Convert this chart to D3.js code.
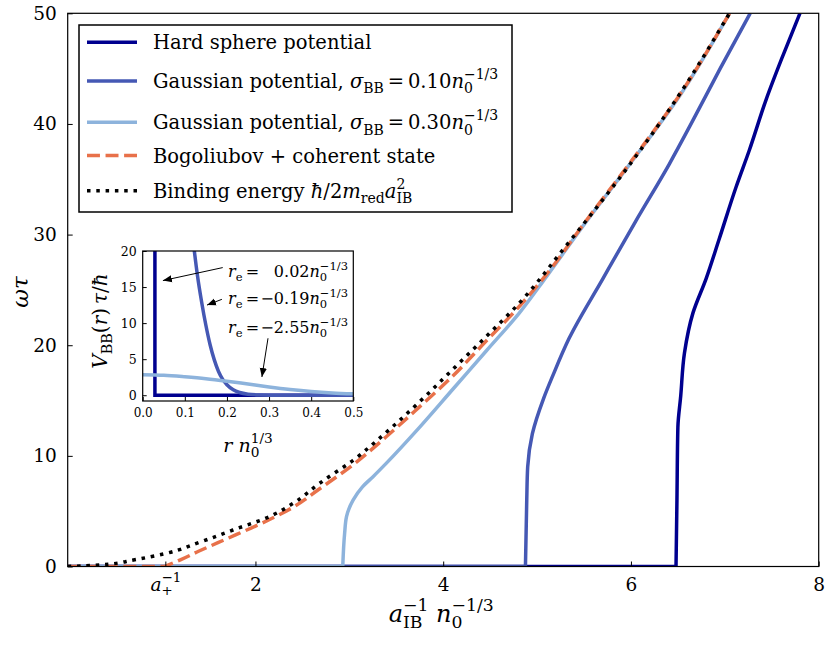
<!DOCTYPE html>
<html><head><meta charset="utf-8">
<script src="https://cdn.jsdelivr.net/npm/d3@7"></script>
<style>
html,body{margin:0;padding:0;background:#fff;}
text{white-space:pre;}
</style>
</head><body>
<svg id="chart" width="830" height="651"></svg>
<script>
// ---------- DATA ----------
const xTickVals = [1.04, 2, 4, 6, 8];
const xTickLabels = ["a+^-1", "2", "4", "6", "8"];
const yTickVals = [0, 10, 20, 30, 40, 50];

const seriesNames = [
  "Hard sphere potential",
  "Gaussian potential, sigma 0.10",
  "Gaussian potential, sigma 0.30",
  "Bogoliubov + coherent state",
  "Binding energy"
];

const hardX = [0, 6.48, 6.49, 6.50, 6.53, 6.57, 6.66, 6.80, 6.94, 7.12, 7.26, 7.44, 7.62, 7.80];
const hardY = [0, 0, 6.0, 12.6, 15.4, 19.3, 22.9, 26.0, 29.6, 34.3, 37.6, 42.2, 46.2, 50];

const gauss10X = [0, 4.876, 4.89, 4.90, 4.95, 5.07, 5.17, 5.34, 5.70, 6.05, 6.41, 6.64, 6.95, 7.27];
const gauss10Y = [0, 0, 6.0, 9.0, 12.0, 15.2, 17.3, 20.6, 26.0, 31.2, 36.4, 40.0, 45.0, 50];

const gauss30X = [0, 2.93, 2.95, 2.97, 3.04, 3.14, 3.25, 3.39, 3.75, 4.10, 4.46, 4.81, 5.10, 5.5, 6.0, 6.5, 7.05];
const gauss30Y = [0, 0, 3.0, 4.5, 6.0, 7.2, 8.1, 9.3, 12.6, 16.0, 19.5, 22.9, 26.2, 30.9, 36.5, 42.3, 50];

const bogX = [0, 1.03, 1.2, 1.4, 1.6, 1.8, 2.0, 2.2, 2.4, 2.68, 3.04, 3.39, 3.75, 4.10, 4.46, 4.81, 5.10, 5.5, 6.0, 6.5, 7.05];
const bogY = [0, 0, 0.6, 1.4, 2.15, 2.9, 3.65, 4.45, 5.35, 7.0, 9.2, 11.7, 14.45, 17.2, 20.4, 23.5, 26.4, 31.0, 36.6, 42.4, 50];

const bindX = [0, 0.35, 0.7, 1.05, 1.41, 1.76, 2.12, 2.40, 2.68, 3.04, 3.39, 3.75, 4.10, 4.46, 4.81, 5.31, 6.02, 6.48, 7.05];
const bindY = [0, 0.14, 0.59, 1.19, 2.2, 3.3, 4.4, 5.7, 7.5, 9.6, 12.1, 14.9, 17.8, 20.8, 23.8, 29.0, 36.7, 42.2, 50];

// inset: potentials V_BB(r)
const insetXTicks = [0.0, 0.1, 0.2, 0.3, 0.4, 0.5];
const insetYTicks = [0, 5, 10, 15, 20];
const vHardR = [0.029, 0.029, 0.5];
const vHardV = [25, 0, 0];
const vG10R = [0.120, 0.1226, 0.130, 0.140, 0.150, 0.160, 0.170, 0.180, 0.190, 0.200, 0.215, 0.230, 0.250, 0.280, 0.320, 0.5];
const vG10V = [21.3, 20, 16.6, 12.9, 9.7, 7.0, 4.9, 3.3, 2.2, 1.45, 0.75, 0.38, 0.15, 0.04, 0.0, 0.0];
const vG30R = [0, 0.05, 0.1, 0.15, 0.2, 0.25, 0.3, 0.35, 0.4, 0.45, 0.5];
const vG30V = [2.85, 2.77, 2.56, 2.3, 1.95, 1.55, 1.15, 0.8, 0.52, 0.32, 0.19];

const reLabels = ["0.02", "\u22120.19", "\u22122.55"];
// annotation anchors in inset data units
const annTailR = [0.190, 0.188, 0.2975];
const annTailV = [17.7, 13.3, 7.9];
const annTipR  = [0.048, 0.1527, 0.283];
const annTipV  = [15.9, 12.5, 2.53];
const annTextV = [16.4, 12.65, 8.63];

// ---------- STYLE ----------
const FONT = "'DejaVu Serif', serif";
const colors = ["#00008f", "#4558b4", "#8db3dc", "#e8714a", "#000000"];
const LW = 3.5;

const svg = d3.select("#chart");

// ---------- helpers ----------
const meas = svg.append("text").attr("font-family", FONT).attr("x", -1000).attr("y", -1000);
function measure(str, size, italic) {
  meas.text(str).attr("font-size", size).attr("font-style", italic ? "italic" : "normal");
  return meas.node().getComputedTextLength();
}
function rich(parent, x, y, items, size, anchor) {
  const t = parent.append("text").attr("x", x).attr("y", y)
    .attr("font-family", FONT).attr("font-size", size)
    .attr("text-anchor", anchor || "start").attr("fill", "#000");
  let cur = 0, lastW = 0, pending = 0;
  items.forEach(it => {
    const s = it.pos ? size * 0.72 : size;
    const off = it.pos === "sub" ? size * 0.27 : it.pos === "sup" ? -size * 0.46 : 0;
    const ts = t.append("tspan").text(it.t).attr("font-size", s).attr("dy", off - cur);
    if (it.i) ts.attr("font-style", "italic");
    const w = measure(it.t, s, it.i);
    let dx = pending; pending = 0;
    if (it.stack) {
      dx -= lastW;
      if (lastW > w) pending = lastW - w;
    }
    if (dx !== 0) ts.attr("dx", dx);
    lastW = w;
    cur = off;
  });
  return t;
}
function zip(a, b) { return a.map((v, i) => [v, b[i]]); }

// ---------- MAIN AXES ----------
const x = d3.scaleLinear().domain([0, 8]).range([67.7, 818.7]);
const y = d3.scaleLinear().domain([0, 50]).range([566.5, 13.3]);
const [X0, X1] = x.range();
const [Y0, Y1] = y.range();

svg.append("clipPath").attr("id", "mainclip").append("rect")
  .attr("x", X0).attr("y", Y1).attr("width", X1 - X0).attr("height", Y0 - Y1);

const lineFlat = d3.line().x(d => x(d[0])).y(d => y(d[1]));
const lineRise = d3.line().x(d => x(d[0])).y(d => y(d[1])).curve(d3.curveMonotoneY);
// zero plateau drawn straight, rising branch drawn as a smooth monotone curve (one continuous path)
function seriesPath(pts) {
  let k = 0;
  while (k + 1 < pts.length && pts[k + 1][1] === 0) k++;
  const rise = lineRise(pts.slice(k));
  if (k === 0) return rise;
  return lineFlat(pts.slice(0, k + 1)) + rise.replace(/^M[^A-Za-z]*/, "");
}
const plot = svg.append("g").attr("clip-path", "url(#mainclip)");

const mainSeries = [
  {d: zip(hardX, hardY), c: colors[0], dash: null},
  {d: zip(gauss10X, gauss10Y), c: colors[1], dash: null},
  {d: zip(gauss30X, gauss30Y), c: colors[2], dash: null},
  {d: zip(bogX, bogY), c: colors[3], dash: "12.95,5.6"},
  {d: zip(bindX, bindY), c: colors[4], dash: "3.5,5.8"}
];
mainSeries.forEach(s => {
  plot.append("path").attr("d", seriesPath(s.d))
    .attr("fill", "none").attr("stroke", s.c).attr("stroke-width", LW)
    .attr("stroke-dasharray", s.dash).attr("stroke-linejoin", "round");
});

// frame
svg.append("rect").attr("x", X0).attr("y", Y1).attr("width", X1 - X0).attr("height", Y0 - Y1)
  .attr("fill", "none").attr("stroke", "#000").attr("stroke-width", 1.2);

// y axis (inward ticks)
const yAxis = d3.axisLeft(y).tickValues(yTickVals).tickSizeInner(-5).tickSizeOuter(0).tickPadding(11);
const gy = svg.append("g").attr("transform", `translate(${X0},0)`).call(yAxis);
gy.select(".domain").remove();
gy.selectAll(".tick line").attr("stroke", "#000").attr("stroke-width", 1);
gy.selectAll(".tick text").attr("font-family", FONT).attr("font-size", 18.5).attr("fill", "#000");

// x axis (inward ticks)
const xAxis = d3.axisBottom(x).tickValues(xTickVals).tickSizeInner(-5).tickSizeOuter(0).tickFormat(() => "");
const gx = svg.append("g").attr("transform", `translate(0,${Y0})`).call(xAxis);
gx.select(".domain").remove();
gx.selectAll(".tick line").attr("stroke", "#000").attr("stroke-width", 1);
gx.selectAll(".tick").each(function(d, i) {
  const g = d3.select(this);
  const lab = xTickLabels[i];
  if (lab === "a+^-1") {
    rich(g, 0, 24, [{t: "a", i: true}, {t: "+", pos: "sub"}, {t: "\u22121", pos: "sup", stack: true}], 18.5, "middle");
  } else {
    rich(g, 0, 24.5, [{t: lab}], 18.5, "middle");
  }
});

// axis labels
rich(svg, (X0 + X1) / 2 - 2, 622, [
  {t: "a", i: true}, {t: "IB", pos: "sub"}, {t: "\u22121", pos: "sup", stack: true},
  {t: " "}, {t: "n", i: true}, {t: "0", pos: "sub"}, {t: "\u22121/3", pos: "sup", stack: true}
], 24, "middle");
const yl = svg.append("g").attr("transform", `translate(28,${(Y0 + Y1) / 2 + 2}) rotate(-90)`);
rich(yl, 0, 0, [{t: "\u03c9\u03c4", i: true}], 23, "middle");

// ---------- LEGEND ----------
const leg = svg.append("g");
leg.append("rect").attr("x", 79).attr("y", 25).attr("width", 433).attr("height", 187)
  .attr("fill", "#fff").attr("stroke", "#000").attr("stroke-width", 1.5);
const rowY = [42.3, 81, 122.3, 155.5, 190.7];
const legLabels = [
  [{t: seriesNames[0]}],
  [{t: "Gaussian potential, "}, {t: "\u03c3", i: true}, {t: "BB", pos: "sub"}, {t: "\u2009=\u20090.10"}, {t: "n", i: true}, {t: "0", pos: "sub"}, {t: "\u22121/3", pos: "sup", stack: true}],
  [{t: "Gaussian potential, "}, {t: "\u03c3", i: true}, {t: "BB", pos: "sub"}, {t: "\u2009=\u20090.30"}, {t: "n", i: true}, {t: "0", pos: "sub"}, {t: "\u22121/3", pos: "sup", stack: true}],
  [{t: seriesNames[3]}],
  [{t: "Binding energy "}, {t: "\u0127", i: true}, {t: "/2"}, {t: "m", i: true}, {t: "red", pos: "sub"}, {t: "a", i: true}, {t: "IB", pos: "sub"}, {t: "2", pos: "sup", stack: true}]
];
mainSeries.forEach((s, i) => {
  leg.append("line").attr("x1", 87).attr("x2", 137).attr("y1", rowY[i]).attr("y2", rowY[i])
    .attr("stroke", s.c).attr("stroke-width", LW).attr("stroke-dasharray", s.dash);
  rich(leg, 153, rowY[i] + 7, legLabels[i], 19.5, "start");
});

// ---------- INSET ----------
const ix = d3.scaleLinear().domain([0, 0.5]).range([142.7, 353.3]);
const iy = d3.scaleLinear().domain([-0.8, 20]).range([401, 251]);
const [IX0, IX1] = ix.range();
const [IY0, IY1] = iy.range();
const inset = svg.append("g");
inset.append("rect").attr("x", IX0).attr("y", IY1).attr("width", IX1 - IX0).attr("height", IY0 - IY1)
  .attr("fill", "#fff");
svg.append("clipPath").attr("id", "insetclip").append("rect")
  .attr("x", IX0).attr("y", IY1).attr("width", IX1 - IX0).attr("height", IY0 - IY1);
const iplot = inset.append("g").attr("clip-path", "url(#insetclip)");
const iline = d3.line().x(d => ix(d[0])).y(d => iy(d[1]));
const ilineC = d3.line().x(d => ix(d[0])).y(d => iy(d[1])).curve(d3.curveMonotoneX);
iplot.append("path").datum(zip(vHardR, vHardV)).attr("d", iline)
  .attr("fill", "none").attr("stroke", colors[0]).attr("stroke-width", LW);
iplot.append("path").datum(zip(vG10R, vG10V)).attr("d", ilineC)
  .attr("fill", "none").attr("stroke", colors[1]).attr("stroke-width", LW);
iplot.append("path").datum(zip(vG30R, vG30V)).attr("d", ilineC)
  .attr("fill", "none").attr("stroke", colors[2]).attr("stroke-width", LW);
inset.append("rect").attr("x", IX0).attr("y", IY1).attr("width", IX1 - IX0).attr("height", IY0 - IY1)
  .attr("fill", "none").attr("stroke", "#000").attr("stroke-width", 1.2);

const iyAxis = d3.axisLeft(iy).tickValues(insetYTicks).tickSizeInner(-4).tickSizeOuter(0).tickPadding(6).tickFormat(d3.format("d"));
const giy = inset.append("g").attr("transform", `translate(${IX0},0)`).call(iyAxis);
giy.select(".domain").remove();
giy.selectAll(".tick line").attr("stroke", "#000");
giy.selectAll(".tick text").attr("font-family", FONT).attr("font-size", 12.5).attr("fill", "#000");
const ixAxis = d3.axisBottom(ix).tickValues(insetXTicks).tickSizeInner(-4).tickSizeOuter(0).tickPadding(7).tickFormat(d3.format(".1f"));
const gix = inset.append("g").attr("transform", `translate(0,${IY0})`).call(ixAxis);
gix.select(".domain").remove();
gix.selectAll(".tick line").attr("stroke", "#000");
gix.selectAll(".tick text").attr("font-family", FONT).attr("font-size", 12).attr("fill", "#000");

// inset labels
rich(inset, (IX0 + IX1) / 2, 451.5, [{t: "r", i: true}, {t: " "}, {t: "n", i: true}, {t: "0", pos: "sub"}, {t: "1/3", pos: "sup", stack: true}], 19, "middle");
const iyl = inset.append("g").attr("transform", `translate(106.5,321) rotate(-90)`);
rich(iyl, 0, 0, [{t: "V", i: true}, {t: "BB", pos: "sub"}, {t: "("}, {t: "r", i: true}, {t: ")\u2009"}, {t: "\u03c4", i: true}, {t: "/"}, {t: "\u0127", i: true}], 20, "middle");

// annotations
const defs = svg.append("defs");
defs.append("marker").attr("id", "ah").attr("viewBox", "0 0 10 10").attr("refX", 10).attr("refY", 5)
  .attr("markerWidth", 9).attr("markerHeight", 9).attr("markerUnits", "userSpaceOnUse").attr("orient", "auto")
  .append("path").attr("d", "M0,1 L10,5 L0,9 Z").attr("fill", "#000");
reLabels.forEach((lab, i) => {
  inset.append("line")
    .attr("x1", ix(annTailR[i])).attr("y1", iy(annTailV[i]))
    .attr("x2", ix(annTipR[i])).attr("y2", iy(annTipV[i]))
    .attr("stroke", "#000").attr("stroke-width", 1).attr("marker-end", "url(#ah)");
  rich(inset, ix(0.2025), iy(annTextV[i]), [{t: "r", i: true}, {t: "e", pos: "sub"}, {t: "\u2009="}], 16, "start");
  rich(inset, ix(0.4874), iy(annTextV[i]), [{t: lab}, {t: "n", i: true}, {t: "0", pos: "sub"}, {t: "\u22121/3", pos: "sup", stack: true}], 16, "end");
});
meas.remove();
</script>
</body></html>
